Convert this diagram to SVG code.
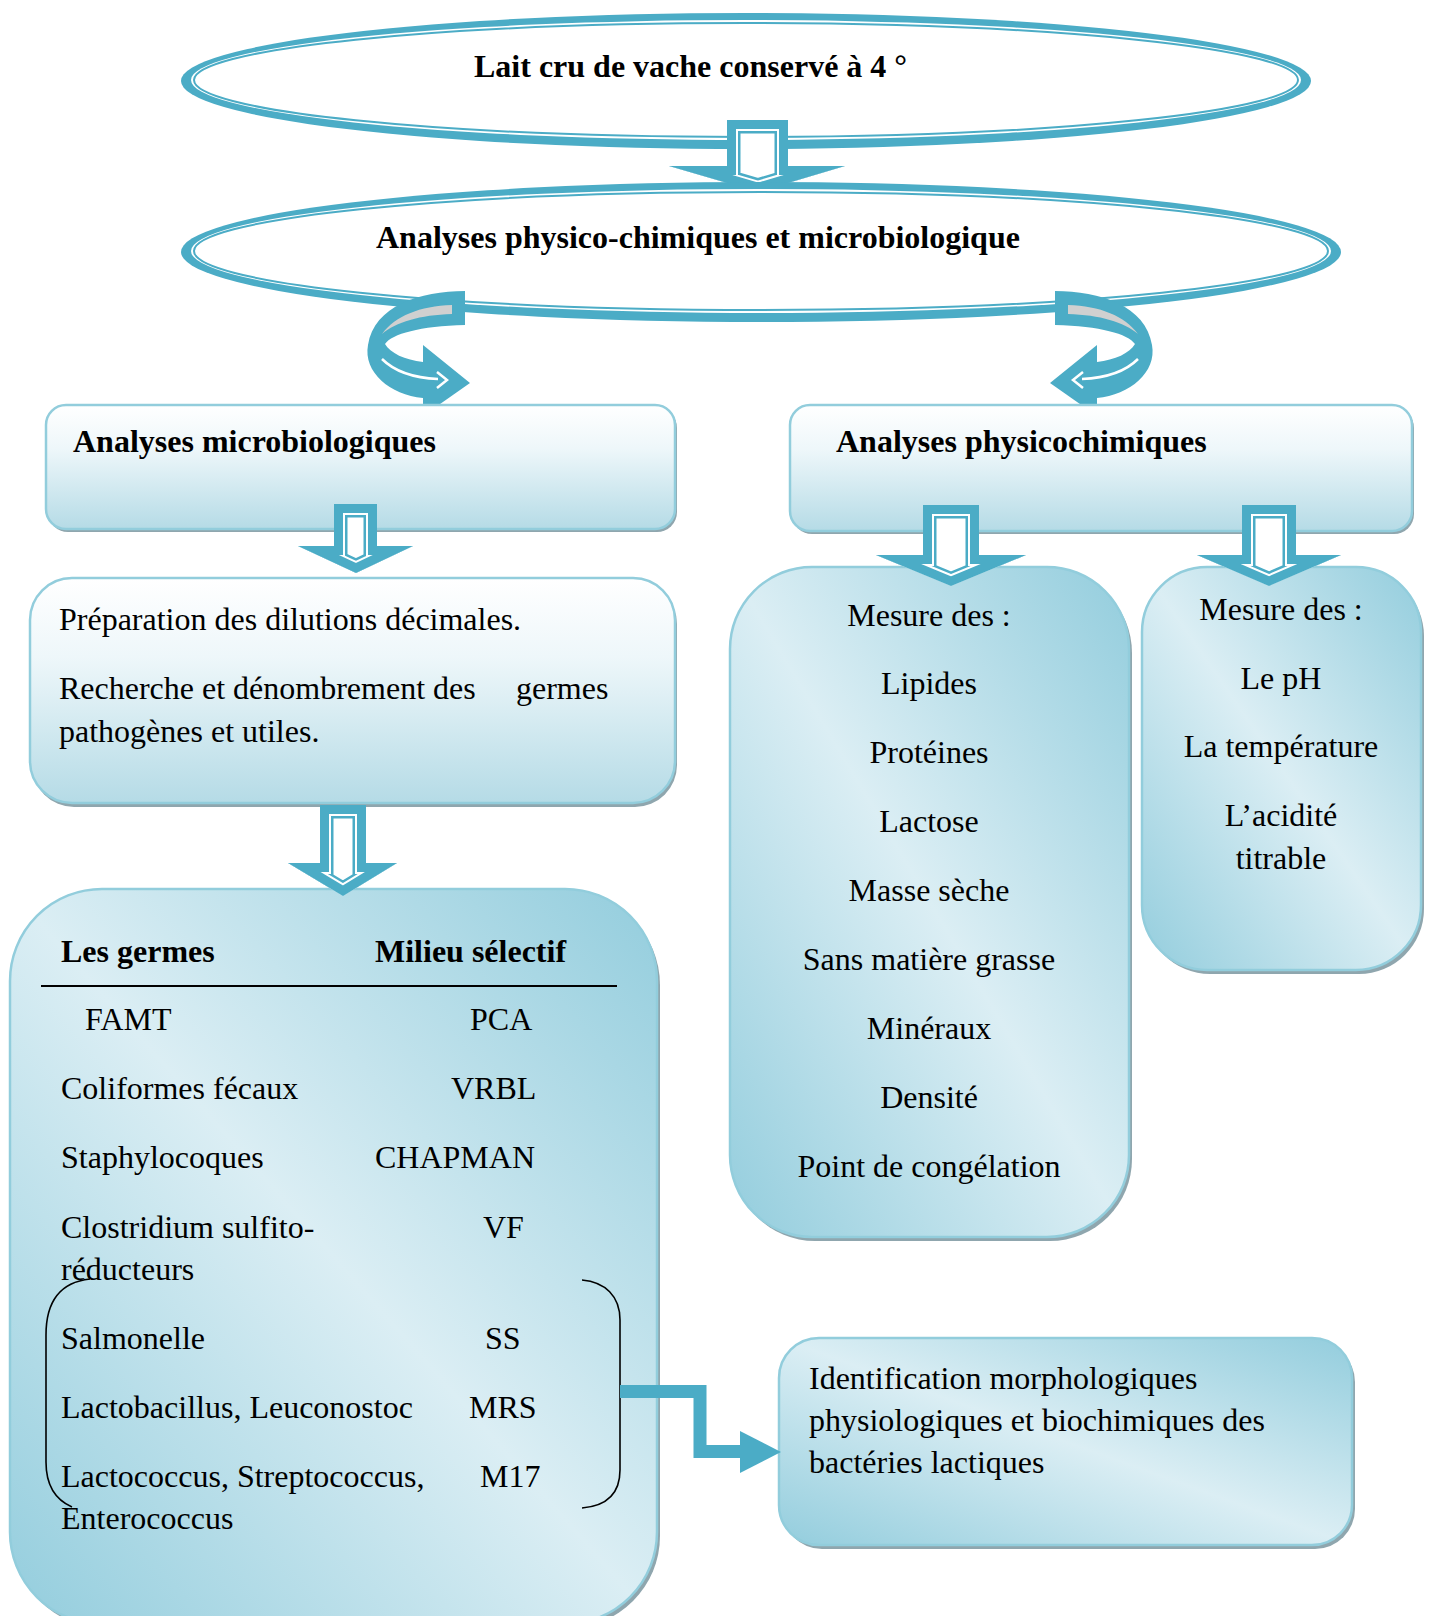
<svg xmlns="http://www.w3.org/2000/svg" xmlns:xlink="http://www.w3.org/1999/xlink" width="1432" height="1616" viewBox="0 0 1432 1616">
<style>
  text { font-family: "Liberation Serif", "Times New Roman", serif; font-size: 32px; fill: #000; }
  .b { font-weight: bold; }
  .c { text-anchor: middle; }
  .box { stroke: #92cddc; stroke-width: 2.5; }
  .shadow { fill: #8fa6ae; }
  .blue { fill: #4bacc6; }
  .a1 { stroke: #4bacc6; stroke-width: 27; }
  .a2 { stroke: #ffffff; stroke-width: 22; }
  .a3 { stroke: #4bacc6; stroke-width: 18; }
</style>
<defs>
  <linearGradient id="gv" x1="0" y1="0" x2="0" y2="1">
    <stop offset="0" stop-color="#ffffff"/>
    <stop offset="0.35" stop-color="#eef7fa"/>
    <stop offset="1" stop-color="#b5dbe6"/>
  </linearGradient>
  <linearGradient id="gd" x1="0" y1="1" x2="1" y2="0">
    <stop offset="0" stop-color="#93cddd"/>
    <stop offset="0.5" stop-color="#dbeef4"/>
    <stop offset="1" stop-color="#93cddd"/>
  </linearGradient>
  <polygon id="p1" points="727,120 788,120 788,166 845,166 758,192 669,166 727,166"/>
  <polygon id="p2" points="334,504 377,504 377,546 413,546 356,573 298,546 334,546"/>
  <polygon id="p3" points="320,805 366,805 366,863 397,863 343,896 288,863 320,863"/>
  <polygon id="p4" points="923,505 979,505 979,555 1026,555 951,586 876,555 923,555"/>
  <polygon id="p5" points="1242,505 1296,505 1296,555 1341,555 1269,586 1197,555 1242,555"/>
  <clipPath id="c1"><use xlink:href="#p1"/></clipPath>
  <clipPath id="c2"><use xlink:href="#p2"/></clipPath>
  <clipPath id="c3"><use xlink:href="#p3"/></clipPath>
  <clipPath id="c4"><use xlink:href="#p4"/></clipPath>
  <clipPath id="c5"><use xlink:href="#p5"/></clipPath>
  <g id="curl">
    <path class="blue" d="M 465 291 C 420 291 374 306 368 345 C 363 372 390 395 423 398 L 423 416 L 470 383 L 423 345 L 423 362 C 405 360 390 353 385 344 C 392 334 420 326 465 325 Z"/>
    <path fill="#d0d0d0" d="M 452 305 L 452 314 C 420 315 396 322 382 334 C 395 316 420 306 452 305 Z"/>
    <path d="M 382 359 C 395 372 415 378 438 379" fill="none" stroke="#fff" stroke-width="2.5"/>
    <path d="M 437 372 L 447 380 L 437 388" fill="none" stroke="#fff" stroke-width="2.5"/>
  </g>
</defs>

<rect width="1432" height="1616" fill="#ffffff"/>

<!-- Top ellipse -->
<g id="node-lait">
  <ellipse cx="746" cy="81" rx="565" ry="68" class="blue"/>
  <ellipse cx="746" cy="80" rx="555" ry="60" fill="#fff"/>
  <ellipse cx="746" cy="80" rx="552" ry="57" fill="#fff" stroke="#4bacc6" stroke-width="2"/>
  <text class="b" x="474" y="77">Lait cru de vache conservé à 4 °</text>
</g>

<!-- connector between ellipses -->
<g id="connectors">
  <g id="arrow-1">
    <use xlink:href="#p1" fill="#fff"/>
    <g clip-path="url(#c1)" fill="none" stroke-linejoin="miter" stroke-miterlimit="10">
      <use xlink:href="#p1" class="a1"/>
      <use xlink:href="#p1" class="a2"/>
      <use xlink:href="#p1" class="a3"/>
    </g>
  </g>
</g>

<!-- Second ellipse -->
<g id="node-analyses">
  <ellipse cx="761" cy="252" rx="580" ry="70" class="blue"/>
  <ellipse cx="761" cy="251" rx="570" ry="62" fill="#fff"/>
  <ellipse cx="761" cy="251" rx="567" ry="59" fill="#fff" stroke="#4bacc6" stroke-width="2"/>
  <text class="b" x="376" y="248">Analyses physico-chimiques et microbiologique</text>
</g>

<g id="connectors-curls">
  <use xlink:href="#curl"/>
  <use xlink:href="#curl" transform="translate(1520,0) scale(-1,1)"/>
</g>

<!-- Analyses microbiologiques -->
<g id="node-micro">
  <rect x="48" y="408" width="629" height="124" rx="20" class="shadow"/>
  <rect x="46" y="405" width="629" height="124" rx="20" fill="url(#gv)" class="box"/>
  <text class="b" x="73" y="452">Analyses microbiologiques</text>
</g>

<!-- Analyses physicochimiques -->
<g id="node-physico">
  <rect x="792" y="408" width="622" height="126" rx="20" class="shadow"/>
  <rect x="790" y="405" width="622" height="126" rx="20" fill="url(#gv)" class="box"/>
  <text class="b" x="836" y="452">Analyses physicochimiques</text>
</g>

<!-- Préparation -->
<g id="node-preparation">
  <rect x="32" y="582" width="645" height="225" rx="42" class="shadow"/>
  <rect x="30" y="578" width="645" height="225" rx="42" fill="url(#gv)" class="box"/>
  <text x="59" y="630">Préparation des dilutions décimales.</text>
  <text x="59" y="699">Recherche et dénombrement des<tspan x="516">germes</tspan></text>
  <text x="59" y="742">pathogènes et utiles.</text>
</g>

<!-- Germes table -->
<g id="node-germes">
  <rect x="13" y="893" width="647" height="735" rx="92" class="shadow"/>
  <rect x="10" y="889" width="647" height="735" rx="92" fill="url(#gd)" class="box"/>
  <text class="b" x="61" y="962">Les germes</text>
  <text class="b" x="375" y="962">Milieu sélectif</text>
  <line x1="41" y1="986" x2="617" y2="986" stroke="#000" stroke-width="2"/>
  <text x="85" y="1030">FAMT</text><text x="470" y="1030">PCA</text>
  <text x="61" y="1099">Coliformes fécaux</text><text x="451" y="1099">VRBL</text>
  <text x="61" y="1168">Staphylocoques</text><text x="375" y="1168">CHAPMAN</text>
  <text x="61" y="1238">Clostridium sulfito-</text><text x="483" y="1238">VF</text>
  <text x="61" y="1280">réducteurs</text>
  <text x="61" y="1349">Salmonelle</text><text x="485" y="1349">SS</text>
  <text x="61" y="1418">Lactobacillus, Leuconostoc</text><text x="469" y="1418">MRS</text>
  <text x="61" y="1487">Lactococcus, Streptococcus,</text><text x="480" y="1487">M17</text>
  <text x="61" y="1529">Enterococcus</text>
  <path d="M 90 1279 C 62 1282 46 1300 46 1335 L 46 1462 C 46 1485 56 1500 72 1507" fill="none" stroke="#000" stroke-width="1.6"/>
  <path d="M 582 1280 C 605 1282 620 1296 620 1320 L 620 1470 C 620 1494 606 1506 582 1508" fill="none" stroke="#000" stroke-width="1.6"/>
</g>

<!-- Mesure left -->
<g id="node-mesure1">
  <rect x="733" y="571" width="399" height="670" rx="82" class="shadow"/>
  <rect x="730" y="567" width="399" height="670" rx="82" fill="url(#gd)" class="box"/>
  <text class="c" x="929" y="626">Mesure des :</text>
  <text class="c" x="929" y="694">Lipides</text>
  <text class="c" x="929" y="763">Protéines</text>
  <text class="c" x="929" y="832">Lactose</text>
  <text class="c" x="929" y="901">Masse sèche</text>
  <text class="c" x="929" y="970">Sans matière grasse</text>
  <text class="c" x="929" y="1039">Minéraux</text>
  <text class="c" x="929" y="1108">Densité</text>
  <text class="c" x="929" y="1177">Point de congélation</text>
</g>

<!-- Mesure right -->
<g id="node-mesure2">
  <rect x="1145" y="571" width="279" height="403" rx="65" class="shadow"/>
  <rect x="1142" y="567" width="279" height="403" rx="65" fill="url(#gd)" class="box"/>
  <text class="c" x="1281" y="620">Mesure des :</text>
  <text class="c" x="1281" y="689">Le pH</text>
  <text class="c" x="1281" y="757">La température</text>
  <text class="c" x="1281" y="826">L’acidité</text>
  <text class="c" x="1281" y="869">titrable</text>
</g>

<!-- Identification -->
<g id="node-identification">
  <rect x="782" y="1342" width="573" height="207" rx="40" class="shadow"/>
  <rect x="779" y="1338" width="573" height="207" rx="40" fill="url(#gd)" class="box"/>
  <text x="809" y="1389">Identification morphologiques</text>
  <text x="809" y="1431">physiologiques et biochimiques des</text>
  <text x="809" y="1473">bactéries lactiques</text>
</g>

<g id="connectors-2">
  <g id="arrow-2">
    <use xlink:href="#p2" fill="#fff"/>
    <g clip-path="url(#c2)" fill="none" stroke-linejoin="miter" stroke-miterlimit="10">
      <use xlink:href="#p2" class="a1"/>
      <use xlink:href="#p2" class="a2"/>
      <use xlink:href="#p2" class="a3"/>
    </g>
  </g>
  <g id="arrow-3">
    <use xlink:href="#p3" fill="#fff"/>
    <g clip-path="url(#c3)" fill="none" stroke-linejoin="miter" stroke-miterlimit="10">
      <use xlink:href="#p3" class="a1"/>
      <use xlink:href="#p3" class="a2"/>
      <use xlink:href="#p3" class="a3"/>
    </g>
  </g>
  <g id="arrow-4">
    <use xlink:href="#p4" fill="#fff"/>
    <g clip-path="url(#c4)" fill="none" stroke-linejoin="miter" stroke-miterlimit="10">
      <use xlink:href="#p4" class="a1"/>
      <use xlink:href="#p4" class="a2"/>
      <use xlink:href="#p4" class="a3"/>
    </g>
  </g>
  <g id="arrow-5">
    <use xlink:href="#p5" fill="#fff"/>
    <g clip-path="url(#c5)" fill="none" stroke-linejoin="miter" stroke-miterlimit="10">
      <use xlink:href="#p5" class="a1"/>
      <use xlink:href="#p5" class="a2"/>
      <use xlink:href="#p5" class="a3"/>
    </g>
  </g>
  <g id="elbow">
    <path d="M 620 1391.5 H 700 V 1451.5 H 744" fill="none" stroke="#4bacc6" stroke-width="13" stroke-linejoin="miter"/>
    <polygon class="blue" points="740,1431 781,1452 740,1473"/>
  </g>
</g>
</svg>
